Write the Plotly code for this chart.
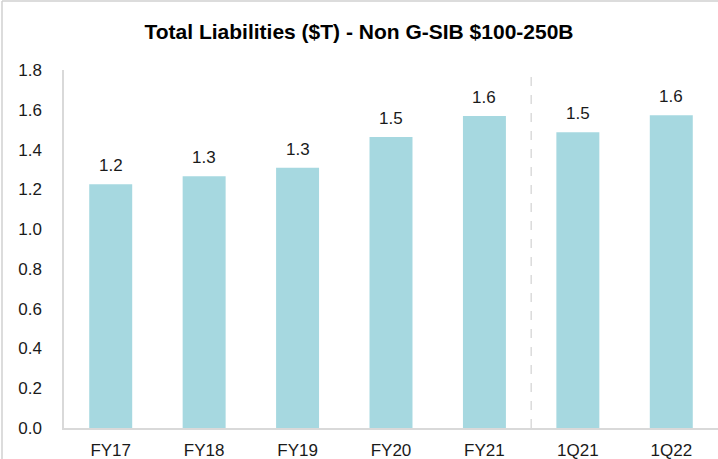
import plotly.graph_objects as go

categories = ["FY17", "FY18", "FY19", "FY20", "FY21", "1Q21", "1Q22"]
liabilities = [1.226, 1.266, 1.308, 1.463, 1.569, 1.487, 1.572]
y_ticks = [0.0, 0.2, 0.4, 0.6, 0.8, 1.0, 1.2, 1.4, 1.6, 1.8]

title_text = "Total Liabilities ($T) - Non G-SIB $100-250B"
bar_color = "#A6D8E0"
font_family = "Liberation Sans, Arial, sans-serif"

fig = go.Figure()
fig.add_trace(go.Bar(
    x=categories,
    y=liabilities,
    marker=dict(color=bar_color, line=dict(width=0)),
    width=0.46,
    hoverinfo="x+y",
))

annotations = [
    dict(x=c, y=v, text=f"{v:.1f}", showarrow=False, yanchor="bottom",
         yshift=7, font=dict(family=font_family, size=17, color="#1a1a1a"))
    for c, v in zip(categories, liabilities)
]

W, H = 718, 459
plot_l, plot_r, plot_t, plot_b = 64, 0, 70, 30.5
pw = W - plot_l - plot_r
ph = H - plot_t - plot_b

shapes = [
    # dashed separator between annual and quarterly
    dict(type="line", xref="x", yref="y", x0=4.5, x1=4.5, y0=0, y1=1.8,
         line=dict(color="#C8C8C8", width=1, dash="dash")),
    # outer frame (left and top)
    dict(type="line", xref="paper", yref="paper",
         x0=(2 - plot_l) / pw, x1=(2 - plot_l) / pw,
         y0=-plot_b / ph - 0.05, y1=1 + (plot_t - 1) / ph,
         line=dict(color="#D0D0D0", width=1.5)),
    dict(type="line", xref="paper", yref="paper",
         x0=(2 - plot_l) / pw, x1=1 + 10 / pw,
         y0=1 + (plot_t - 1) / ph, y1=1 + (plot_t - 1) / ph,
         line=dict(color="#D0D0D0", width=1.5)),
]

fig.update_layout(
    width=W, height=H,
    margin=dict(l=plot_l, r=plot_r, t=plot_t, b=plot_b, pad=0, autoexpand=False),
    paper_bgcolor="white", plot_bgcolor="white",
    showlegend=False,
    title=dict(text=f"<b>{title_text}</b>", x=0.5, xanchor="center",
               xref="container", y=1 - 32 / H, yanchor="middle",
               font=dict(family=font_family, size=21, color="#000")),
    font=dict(family=font_family, size=17, color="#1a1a1a"),
    bargap=0.54,
    annotations=annotations,
    shapes=shapes,
    xaxis=dict(
        showline=True, linecolor="#D9D9D9", linewidth=1.5,
        showgrid=False, ticks="", zeroline=False,
        ticklabelstandoff=6,
        tickfont=dict(family=font_family, size=17, color="#1a1a1a"),
        range=[-0.5, 6.5], fixedrange=True,
    ),
    yaxis=dict(
        range=[0, 1.8], tickvals=y_ticks,
        ticktext=[f"{t:.1f}" for t in y_ticks],
        showline=True, linecolor="#D9D9D9", linewidth=1.5,
        showgrid=False, zeroline=False, ticks="",
        ticklabelstandoff=17,
        tickfont=dict(family=font_family, size=17, color="#1a1a1a"),
        fixedrange=True,
    ),
)

fig.write_html(
    "out.html",
    config={"displayModeBar": False},
    post_script="document.body.style.margin='0';document.body.style.overflow='hidden';",
)
